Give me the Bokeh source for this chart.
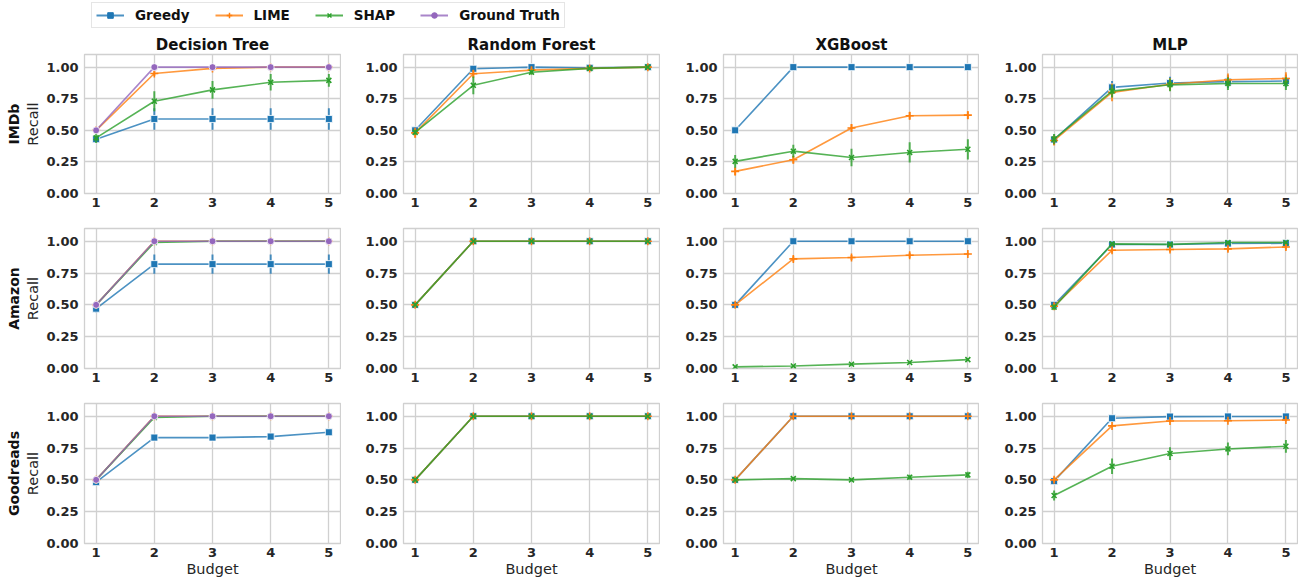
from bokeh.plotting import figure
from bokeh.layouts import column, row
from bokeh.models import (FixedTicker, PrintfTickFormatter, Legend, LegendItem,
                          Title, Range1d, ColumnDataSource)
from bokeh.embed import file_html
from bokeh.resources import INLINE

# ---------------- data ----------------
budget = [1, 2, 3, 4, 5]
datasets = ["IMDb", "Amazon", "Goodreads"]
models = ["Decision Tree", "Random Forest", "XGBoost", "MLP"]
methods = ["Greedy", "LIME", "SHAP", "Ground Truth"]

# IMDb
imdb_dt = {"Greedy": [0.43, 0.59, 0.59, 0.59, 0.59],
           "LIME": [0.50, 0.95, 0.99, 1.00, 1.00],
           "SHAP": [0.44, 0.73, 0.82, 0.88, 0.895],
           "Ground Truth": [0.50, 1.00, 1.00, 1.00, 1.00]}
imdb_dt_err = {"Greedy": [0.03, 0.085, 0.085, 0.085, 0.085],
               "LIME": [0.01, 0.02, 0.01, 0.0, 0.0],
               "SHAP": [0.04, 0.08, 0.07, 0.065, 0.05],
               "Ground Truth": [0.0, 0.0, 0.0, 0.0, 0.0]}
imdb_rf = {"Greedy": [0.50, 0.987, 1.00, 0.995, 1.00],
           "LIME": [0.48, 0.948, 0.976, 0.99, 1.00],
           "SHAP": [0.484, 0.856, 0.96, 0.99, 1.00]}
imdb_rf_err = {"Greedy": [0.01, 0.01, 0.005, 0.005, 0.0],
               "LIME": [0.04, 0.03, 0.02, 0.01, 0.0],
               "SHAP": [0.02, 0.07, 0.02, 0.01, 0.005]}
imdb_xgb = {"Greedy": [0.50, 1.00, 1.00, 1.00, 1.00],
            "LIME": [0.175, 0.267, 0.518, 0.615, 0.62],
            "SHAP": [0.254, 0.335, 0.285, 0.325, 0.35]}
imdb_xgb_err = {"Greedy": [0.01, 0.0, 0.0, 0.0, 0.0],
                "LIME": [0.03, 0.03, 0.03, 0.03, 0.03],
                "SHAP": [0.05, 0.05, 0.07, 0.08, 0.08]}
imdb_mlp = {"Greedy": [0.427, 0.84, 0.874, 0.885, 0.89],
            "LIME": [0.42, 0.80, 0.864, 0.90, 0.91],
            "SHAP": [0.43, 0.81, 0.86, 0.87, 0.87]}
imdb_mlp_err = {"Greedy": [0.04, 0.05, 0.05, 0.05, 0.05],
                "LIME": [0.04, 0.07, 0.05, 0.05, 0.05],
                "SHAP": [0.04, 0.05, 0.05, 0.05, 0.05]}

# Amazon
amazon_dt = {"Greedy": [0.47, 0.82, 0.82, 0.82, 0.82],
             "LIME": [0.50, 1.00, 1.00, 1.00, 1.00],
             "SHAP": [0.50, 0.99, 1.00, 1.00, 1.00],
             "Ground Truth": [0.50, 1.00, 1.00, 1.00, 1.00]}
amazon_dt_err = {"Greedy": [0.03, 0.075, 0.075, 0.075, 0.075],
                 "LIME": [0.0, 0.0, 0.0, 0.0, 0.0],
                 "SHAP": [0.0, 0.01, 0.0, 0.0, 0.0],
                 "Ground Truth": [0.0, 0.0, 0.0, 0.0, 0.0]}
amazon_rf = {"Greedy": [0.50, 1.00, 1.00, 1.00, 1.00],
             "LIME": [0.50, 1.00, 1.00, 1.00, 1.00],
             "SHAP": [0.50, 1.00, 1.00, 1.00, 1.00]}
amazon_rf_err = {"Greedy": [0.0, 0.0, 0.0, 0.0, 0.0],
                 "LIME": [0.0, 0.0, 0.0, 0.0, 0.0],
                 "SHAP": [0.0, 0.0, 0.0, 0.0, 0.0]}
amazon_xgb = {"Greedy": [0.50, 1.00, 1.00, 1.00, 1.00],
              "LIME": [0.50, 0.861, 0.872, 0.89, 0.90],
              "SHAP": [0.013, 0.02, 0.034, 0.047, 0.07]}
amazon_xgb_err = {"Greedy": [0.0, 0.0, 0.0, 0.0, 0.0],
                  "LIME": [0.01, 0.02, 0.02, 0.02, 0.01],
                  "SHAP": [0.005, 0.005, 0.008, 0.008, 0.01]}
amazon_mlp = {"Greedy": [0.50, 0.974, 0.974, 0.982, 0.984],
              "LIME": [0.49, 0.929, 0.935, 0.94, 0.955],
              "SHAP": [0.482, 0.979, 0.975, 0.99, 0.99]}
amazon_mlp_err = {"Greedy": [0.01, 0.01, 0.01, 0.01, 0.01],
                  "LIME": [0.02, 0.02, 0.02, 0.02, 0.02],
                  "SHAP": [0.02, 0.01, 0.01, 0.01, 0.01]}

# Goodreads
goodreads_dt = {"Greedy": [0.482, 0.832, 0.832, 0.84, 0.874],
                "LIME": [0.50, 1.00, 1.00, 1.00, 1.00],
                "SHAP": [0.50, 0.99, 1.00, 1.00, 1.00],
                "Ground Truth": [0.50, 1.00, 1.00, 1.00, 1.00]}
goodreads_dt_err = {"Greedy": [0.02, 0.02, 0.02, 0.02, 0.02],
                    "LIME": [0.0, 0.0, 0.0, 0.0, 0.0],
                    "SHAP": [0.0, 0.0, 0.0, 0.0, 0.0],
                    "Ground Truth": [0.0, 0.0, 0.0, 0.0, 0.0]}
goodreads_rf = {"Greedy": [0.50, 1.00, 1.00, 1.00, 1.00],
                "LIME": [0.50, 1.00, 1.00, 1.00, 1.00],
                "SHAP": [0.50, 1.00, 1.00, 1.00, 1.00]}
goodreads_rf_err = {"Greedy": [0.0, 0.0, 0.0, 0.0, 0.0],
                    "LIME": [0.0, 0.0, 0.0, 0.0, 0.0],
                    "SHAP": [0.0, 0.0, 0.0, 0.0, 0.0]}
goodreads_xgb = {"Greedy": [0.50, 1.00, 1.00, 1.00, 1.00],
                 "LIME": [0.50, 1.00, 1.00, 1.00, 1.00],
                 "SHAP": [0.50, 0.51, 0.50, 0.521, 0.539]}
goodreads_xgb_err = {"Greedy": [0.0, 0.0, 0.0, 0.0, 0.0],
                     "LIME": [0.0, 0.0, 0.0, 0.0, 0.0],
                     "SHAP": [0.01, 0.01, 0.01, 0.02, 0.025]}
goodreads_mlp = {"Greedy": [0.49, 0.984, 0.997, 0.998, 0.998],
                 "LIME": [0.50, 0.924, 0.963, 0.965, 0.97],
                 "SHAP": [0.377, 0.607, 0.707, 0.743, 0.764]}
goodreads_mlp_err = {"Greedy": [0.02, 0.01, 0.01, 0.005, 0.005],
                     "LIME": [0.02, 0.01, 0.01, 0.01, 0.01],
                     "SHAP": [0.04, 0.06, 0.05, 0.05, 0.05]}

panels = [
    [(imdb_dt, imdb_dt_err), (imdb_rf, imdb_rf_err), (imdb_xgb, imdb_xgb_err), (imdb_mlp, imdb_mlp_err)],
    [(amazon_dt, amazon_dt_err), (amazon_rf, amazon_rf_err), (amazon_xgb, amazon_xgb_err), (amazon_mlp, amazon_mlp_err)],
    [(goodreads_dt, goodreads_dt_err), (goodreads_rf, goodreads_rf_err), (goodreads_xgb, goodreads_xgb_err), (goodreads_mlp, goodreads_mlp_err)],
]

# ---------------- style ----------------
FONT = "DejaVu Sans"
TXT = "#262626"
GRID = "#d0d0d0"
COLORS = {"Greedy": "#1f77b4", "LIME": "#ff7f0e", "SHAP": "#2ca02c", "Ground Truth": "#9467bd"}
MARKERS = {"Greedy": "square", "LIME": "cross", "SHAP": "x", "Ground Truth": "circle"}
MSIZE = {"Greedy": 7, "LIME": 8, "SHAP": 7, "Ground Truth": 7}

col_w = [341, 319, 319, 319]
col_l = [84, 62, 63, 63]
col_r = [1, 1, 0, 1]
row_h = [181, 175, 192]
row_t = [21, 15, 15]
row_b = [20, 20, 37]
LEG_H = 32


def add_series(p, means, errs):
    for m in methods:
        if m not in means:
            continue
        y = means[m]
        e = errs[m]
        src = ColumnDataSource(dict(x=budget, y=y,
                                    lo=[a - b for a, b in zip(y, e)],
                                    hi=[a + b for a, b in zip(y, e)]))
        c = COLORS[m]
        p.segment(x0="x", y0="lo", x1="x", y1="hi", source=src, line_color=c,
                  line_alpha=0.8, line_width=2)
        p.line("x", "y", source=src, line_color=c, line_width=1.6, line_alpha=0.8)
        if MARKERS[m] in ("cross", "x"):
            p.scatter("x", "y", source=src, marker=MARKERS[m], size=MSIZE[m],
                      line_color=c, line_width=1.6)
        else:
            p.scatter("x", "y", source=src, marker=MARKERS[m], size=MSIZE[m],
                      fill_color=c, line_color="white", line_width=0.8)


rows = []
for i, ds in enumerate(datasets):
    figs = []
    for j, mdl in enumerate(models):
        p = figure(width=col_w[j], height=row_h[i], output_backend="svg",
                   toolbar_location=None,
                   x_range=Range1d(0.8, 5.2), y_range=Range1d(0, 1.1),
                   min_border_left=col_l[j], min_border_right=col_r[j],
                   min_border_top=row_t[i], min_border_bottom=row_b[i])
        p.background_fill_color = "white"
        p.border_fill_color = "white"
        p.outline_line_color = GRID
        p.outline_line_width = 1.3
        if i == 0:
            p.title.text = mdl
            p.title.align = "center"
            p.title.text_font = FONT
            p.title.text_font_size = "15px"
            p.title.text_font_style = "bold"
            p.title.text_color = "#111111"
            p.title.standoff = 2
            p.title.offset = 0
        p.xaxis.ticker = FixedTicker(ticks=budget)
        p.yaxis.ticker = FixedTicker(ticks=[0.0, 0.25, 0.5, 0.75, 1.0])
        p.yaxis.formatter = PrintfTickFormatter(format="%.2f")
        for ax in (p.xaxis[0], p.yaxis[0]):
            ax.axis_line_color = None
            ax.major_tick_line_color = None
            ax.minor_tick_line_color = None
            ax.major_tick_out = 0
            ax.major_tick_in = 0
            ax.major_label_text_font = FONT
            ax.major_label_text_font_size = "13px"
            ax.major_label_text_font_style = "bold"
            ax.major_label_text_color = TXT
            ax.axis_label_text_font = FONT
            ax.axis_label_text_font_size = "14.5px"
            ax.axis_label_text_font_style = "normal"
            ax.axis_label_text_color = TXT
        p.xaxis.major_label_standoff = 4
        p.yaxis.major_label_standoff = 6
        p.xgrid.grid_line_color = GRID
        p.ygrid.grid_line_color = GRID
        p.xgrid.grid_line_width = 1.3
        p.ygrid.grid_line_width = 1.3
        if i == len(datasets) - 1:
            p.xaxis.axis_label = "Budget"
            p.xaxis.axis_label_standoff = 1
        if j == 0:
            p.yaxis.axis_label = "Recall"
            p.yaxis.axis_label_standoff = 2
            t = Title(text=ds, align="center", text_font=FONT, text_font_size="14px",
                      text_font_style="bold", text_color="#111111", standoff=2, offset=0)
            p.add_layout(t, "left")
        means, errs = panels[i][j]
        add_series(p, means, errs)
        figs.append(p)
    rows.append(row(*figs))

# ---------------- legend strip ----------------
lg = figure(width=sum(col_w), height=LEG_H, output_backend="svg", toolbar_location=None,
            x_range=Range1d(0, 1), y_range=Range1d(0, 1),
            x_axis_type=None, y_axis_type=None, min_border=0)
lg.outline_line_color = None
lg.grid.visible = False
items = []
for m in methods:
    c = COLORS[m]
    lr = lg.line(x=[-5, -4], y=[-5, -4], line_color=c, line_width=2, line_alpha=0.8)
    if MARKERS[m] in ("cross", "x"):
        sr = lg.scatter(x=[-5], y=[-5], marker=MARKERS[m], size=5, line_color=c, line_width=1.5)
    else:
        sr = lg.scatter(x=[-5], y=[-5], marker=MARKERS[m], size=5, fill_color=c, line_color=c)
    items.append(LegendItem(label=m, renderers=[lr, sr]))
legend = Legend(items=items, orientation="horizontal", location=(91, 4),
                label_text_font=FONT, label_text_font_size="13.5px",
                label_text_font_style="bold", label_text_color="#111111",
                glyph_width=28, glyph_height=14, label_standoff=11, spacing=25,
                padding=4, margin=0, border_line_color="#cccccc", border_line_width=1,
                background_fill_color="white", background_fill_alpha=1.0)
lg.add_layout(legend, "center")

layout = column(lg, *rows)
open("out.html", "w").write(file_html(layout, INLINE))
